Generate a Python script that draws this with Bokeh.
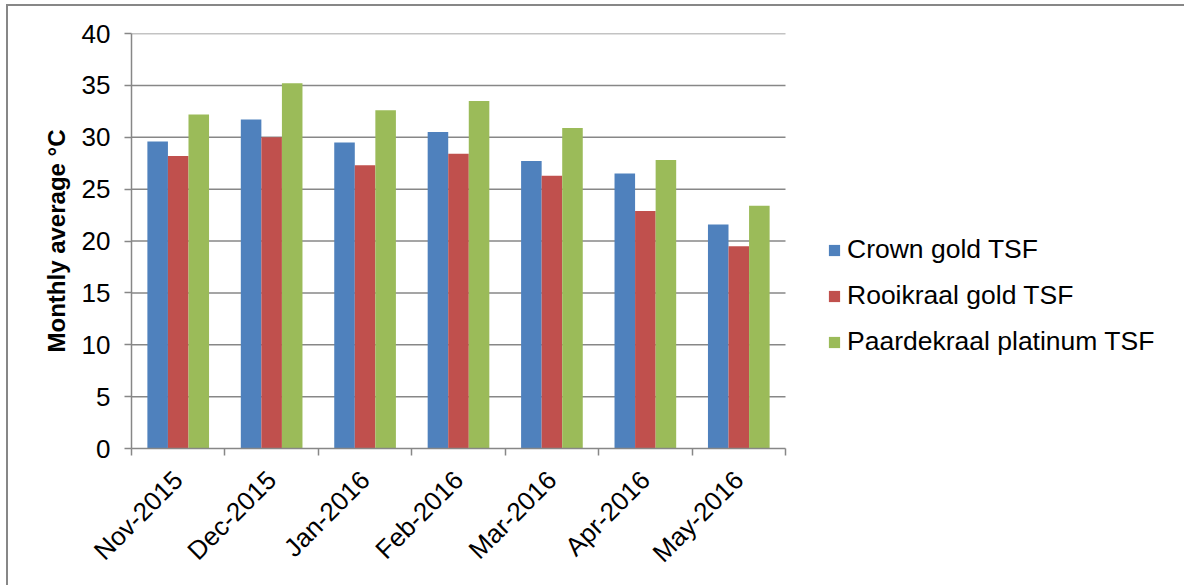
from math import pi

from bokeh.plotting import figure
from bokeh.models import (ColumnDataSource, FixedTicker, Legend, LegendItem,
                          Range1d, InlineStyleSheet)
from bokeh.transform import dodge
from bokeh.embed import file_html
from bokeh.resources import INLINE

# Monthly average temperatures (°C) at three tailings storage facilities
months = ["Nov-2015", "Dec-2015", "Jan-2016", "Feb-2016",
          "Mar-2016", "Apr-2016", "May-2016"]
crown_gold = [29.6, 31.7, 29.5, 30.5, 27.7, 26.5, 21.6]
rooikraal_gold = [28.2, 30.0, 27.3, 28.4, 26.3, 22.9, 19.5]
paardekraal_platinum = [32.2, 35.2, 32.6, 33.5, 30.9, 27.8, 23.4]
series_names = ["Crown gold TSF", "Rooikraal gold TSF", "Paardekraal platinum TSF"]
y_ticks = [0, 5, 10, 15, 20, 25, 30, 35, 40]

COLORS = ["#4F81BD", "#C0504D", "#9BBB59"]
GRID = "#878787"
FONT = "Liberation Sans"

n = len(months)
centers = [i + 0.5 for i in range(n)]
src = ColumnDataSource(dict(
    x=centers,
    crown=crown_gold,
    rooi=rooikraal_gold,
    paarde=paardekraal_platinum,
))

# The frame runs to the right edge so the legend can sit beside the bars;
# the category axis and gridlines are bounded to the 7 month slots.
PLOT_LEFT, PLOT_W, SLOTS_W = 131, 1184 - 131, 654
x_end = n * PLOT_W / SLOTS_W

p = figure(width=1184, height=585,
           x_range=Range1d(0, x_end), y_range=Range1d(0, 40),
           output_backend="svg", toolbar_location=None,
           min_border_left=PLOT_LEFT, min_border_right=0,
           min_border_top=33, min_border_bottom=137)

p.outline_line_color = None
p.background_fill_color = "white"
p.border_fill_alpha = 0

# chart area border: left and top edges, drawn behind the transparent canvas border
p.stylesheets = [InlineStyleSheet(css="""
:host {
  background:
    linear-gradient(#878787, #878787) 6px 4px / 1180px 2px no-repeat,
    linear-gradient(#878787, #878787) 6px 4px / 2px 600px no-repeat,
    white;
}
""")]

p.xgrid.visible = False
p.ygrid.visible = False
p.segment(x0=0, x1=n, y0=y_ticks[1:], y1=y_ticks[1:],
          line_color=GRID, line_width=1.5)

bar_w = 0.22
offsets = [-0.22, 0.0, 0.22]
fields = ["crown", "rooi", "paarde"]
renderers = []
for field, off, col in zip(fields, offsets, COLORS):
    r = p.vbar(x=dodge("x", off), top=field, width=bar_w, source=src,
               fill_color=col, line_color=None)
    renderers.append(r)

# y axis
ya = p.yaxis[0]
ya.ticker = FixedTicker(ticks=y_ticks)
ya.axis_line_color = GRID
ya.axis_line_width = 1.5
ya.major_tick_line_color = GRID
ya.major_tick_line_width = 1.5
ya.major_tick_out = 7
ya.major_tick_in = 0
ya.minor_tick_out = 0
ya.minor_tick_in = 0
ya.major_label_text_font = FONT
ya.major_label_text_font_size = "26px"
ya.major_label_text_color = "black"
ya.major_label_standoff = 14
ya.axis_label = "Monthly average °C"
ya.axis_label_text_font = FONT
ya.axis_label_text_font_style = "bold"
ya.axis_label_text_font_size = "24px"
ya.axis_label_text_color = "black"
ya.axis_label_standoff = 9

# x axis: labels at category centres, tick marks at category boundaries
xa = p.xaxis[0]
xa.bounds = (0, n)
xa.ticker = FixedTicker(ticks=centers, minor_ticks=list(range(n + 1)))
xa.major_label_overrides = {c: m for c, m in zip(centers, months)}
xa.major_label_orientation = pi / 4
xa.axis_line_color = GRID
xa.axis_line_width = 1.5
xa.major_tick_out = 0
xa.major_tick_in = 0
xa.minor_tick_out = 7
xa.minor_tick_in = 0
xa.minor_tick_line_color = GRID
xa.minor_tick_line_width = 1.5
xa.major_label_text_font = FONT
xa.major_label_text_font_size = "26px"
xa.major_label_text_color = "black"
xa.major_label_standoff = 20

legend = Legend(
    items=[LegendItem(label=s, renderers=[r]) for s, r in zip(series_names, renderers)],
    location=(696, 91),
    label_text_font=FONT,
    label_text_font_size="26.5px",
    label_text_color="black",
    glyph_width=14, glyph_height=14,
    label_standoff=6,
    spacing=15,
    padding=0, margin=0,
    border_line_color=None,
    background_fill_alpha=0,
)
p.add_layout(legend, "center")

open("out.html", "w").write(file_html(p, INLINE))
